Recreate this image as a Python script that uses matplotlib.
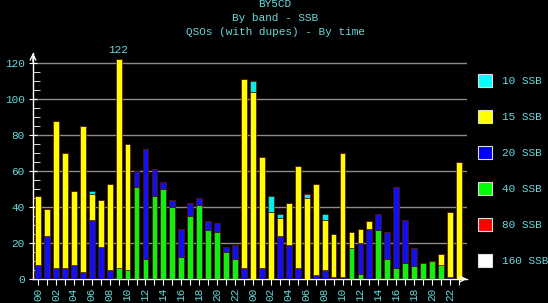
import matplotlib
matplotlib.use("Agg")
import matplotlib.pyplot as plt
import numpy as np

# ---------------------------------------------------------------------------
# QSO counts per hour, two days of SSB, stacked by band
# ---------------------------------------------------------------------------
hours = ["%02d" % (h % 24) for h in range(48)]

b20 = [8, 24, 6, 6, 8, 4, 33, 18, 5, 0, 0, 9, 61, 15, 4, 4,
       16, 7, 4, 5, 5, 3, 8, 6, 0, 6, 0, 24, 19, 6, 0, 2,
       5, 1, 1, 0, 17, 28, 9, 15, 45, 24, 10, 0, 0, 0, 1, 0]
b15 = [38, 15, 82, 64, 41, 81, 14, 26, 48, 116, 70, 0, 0, 0, 0, 0,
       0, 0, 0, 0, 0, 0, 0, 105, 104, 62, 37, 10, 23, 57, 45, 51,
       28, 24, 69, 9, 8, 4, 0, 0, 0, 0, 0, 0, 0, 6, 36, 65]
b10 = [0, 0, 0, 0, 0, 0, 2, 0, 0, 0, 0, 0, 0, 0, 0, 0,
       0, 0, 0, 0, 0, 0, 0, 0, 6, 0, 9, 2, 0, 0, 2, 0,
       3, 0, 0, 0, 0, 0, 0, 0, 0, 0, 0, 0, 0, 0, 0, 0]
b40 = [0, 0, 0, 0, 0, 0, 0, 0, 0, 6, 5, 51, 11, 46, 50, 40,
       12, 35, 41, 27, 26, 15, 11, 0, 0, 0, 0, 0, 0, 0, 0, 0,
       0, 0, 0, 17, 3, 0, 27, 11, 6, 9, 7, 9, 10, 8, 0, 0]

# stacking order bottom -> top
series = [("40 SSB", b40, "#11ee11"),
          ("20 SSB", b20, "#1010f0"),
          ("15 SSB", b15, "#ffff00"),
          ("10 SSB", b10, "#00eeee")]

legend_items = [("10 SSB", "#00ffff"), ("15 SSB", "#ffff00"),
                ("20 SSB", "#0000ff"), ("40 SSB", "#00ff00"),
                ("80 SSB", "#ff0000"), ("160 SSB", "#ffffff")]

TXT = "#66d9d9"
MONO = ["Liberation Mono", "DejaVu Sans Mono"]

fig = plt.figure(figsize=(5.48, 3.03), dpi=100, facecolor="black")
ax = fig.add_axes([0.0602, 0.0792, 0.792, 0.746], facecolor="black")

x = np.arange(len(hours))
bottom = np.zeros(len(hours))
for name, vals, col in series:
    v = np.array(vals, dtype=float)
    ax.bar(x, v, width=0.65, bottom=bottom, color=col,
           edgecolor="#5a1500", linewidth=0.5, zorder=3)
    bottom += v

# peak label
peak = int(np.argmax(bottom))
ax.text(peak, bottom[peak] + 2.5, "%d" % bottom[peak], color=TXT,
        ha="center", va="bottom", fontsize=8, family=MONO)

ax.set_xlim(-0.56, 47.9)
ax.set_ylim(0, 125.5)

ax.set_yticks(range(0, 121, 20))
ax.set_yticks(range(0, 121, 5), minor=True)
ax.set_yticklabels([str(v) for v in range(0, 121, 20)], color=TXT,
                   fontsize=8, family=MONO)
ax.set_xticks(x)
ax.set_xticklabels([h if i % 2 == 0 else "" for i, h in enumerate(hours)],
                   rotation=90, color=TXT, fontsize=8, family=MONO)
ax.tick_params(axis="y", which="major", direction="inout", length=6,
               color="white", pad=3)
ax.tick_params(axis="y", which="minor", direction="in", length=5,
               color="white")
ax.tick_params(axis="x", direction="out", length=4, color="white", pad=2)

for yv in range(20, 121, 20):
    ax.axhline(yv, color="#8a8a8a", linewidth=1, zorder=1)

for s in ("top", "right"):
    ax.spines[s].set_visible(False)
for s in ("left", "bottom"):
    ax.spines[s].set_color("white")
    ax.spines[s].set_linewidth(1)

# little arrow heads at the axis ends
ax.annotate("", xy=(0, 1.0), xycoords="axes fraction", xytext=(0, 0.96),
            arrowprops=dict(arrowstyle="->", color="white", lw=1,
                            shrinkA=0, shrinkB=0))
ax.annotate("", xy=(1.0, 0), xycoords="axes fraction", xytext=(0.98, 0),
            arrowprops=dict(arrowstyle="->", color="white", lw=1,
                            shrinkA=0, shrinkB=0))

# title block
W, H = 548.0, 303.0
for i, line in enumerate(["BY5CD", "By band - SSB",
                          "QSOs (with dupes) - By time"]):
    fig.text(275 / W, 1 - (4 + 14 * i) / H, line, color=TXT, fontsize=8,
             family=MONO, ha="center", va="center")

# legend on the right
for i, (name, col) in enumerate(legend_items):
    yc = 80.7 + 36 * i
    fig.patches.append(plt.Rectangle((478 / W, 1 - (yc + 6.5) / H),
                                     14 / W, 13 / H, transform=fig.transFigure,
                                     facecolor=col, edgecolor="#dddddd",
                                     linewidth=0.8))
    fig.text(502 / W, 1 - yc / H, name, color=TXT, fontsize=8, family=MONO,
             ha="left", va="center")

fig.savefig("out.png", dpi=100, facecolor="black")
